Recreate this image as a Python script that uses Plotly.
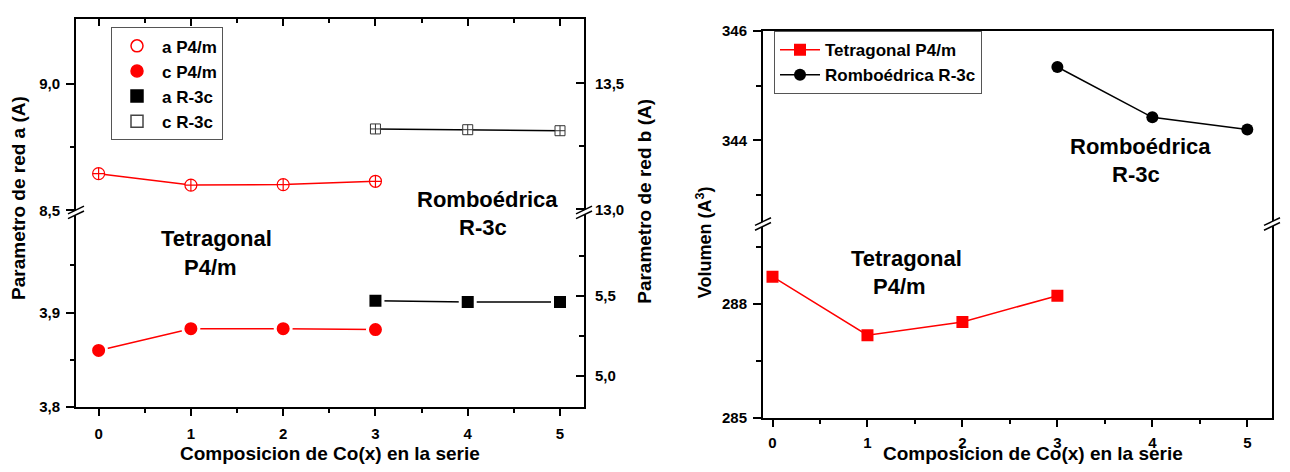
import plotly.graph_objects as go

W, H = 1290, 472
FONT = "Liberation Sans"

# ---- data -------------------------------------------------------------
composition = [0, 1, 2, 3, 4, 5]
x_tetragonal = [0, 1, 2, 3]
x_romboedrica = [3, 4, 5]

a_p4m = [8.645, 8.600, 8.602, 8.615]      # left axis, upper segment
c_p4m = [3.860, 3.883, 3.883, 3.882]      # left axis, lower segment
a_r3c = [5.472, 5.464, 5.464]             # right axis, lower segment
c_r3c = [13.319, 13.316, 13.312]          # right axis, upper segment

vol_tetragonal = [288.72, 287.18, 287.53, 288.22]
vol_romboedrica = [345.34, 344.42, 344.20]

# ---- tick labels (comma decimals) --------------------------------------
yl_low_vals, yl_low_text = [3.8, 3.9], ["3,8", "3,9"]
yl_up_vals, yl_up_text = [8.5, 9.0], ["8,5", "9,0"]
yr_low_vals, yr_low_text = [5.0, 5.5], ["5,0", "5,5"]
yr_up_vals, yr_up_text = [13.0, 13.5], ["13,0", "13,5"]
v_low_vals, v_low_text = [285, 288], ["285", "288"]
v_up_vals, v_up_text = [344, 346], ["344", "346"]


def fx(p):
    return p / W


def fy(p):
    return 1 - p / H


RED = "#ff0000"
BLACK = "#000000"
tickfont = dict(family=FONT, size=15, color="black", weight="bold")

fig = go.Figure()

# ---- left panel: lattice parameters ------------------------------------
fig.add_trace(go.Scatter(
    x=x_tetragonal, y=a_p4m, xaxis="x2", yaxis="y2", mode="lines+markers",
    line=dict(color=RED, width=1.5),
    marker=dict(symbol="circle-cross", size=12, color="white",
                line=dict(color=RED, width=1.2)),
    showlegend=False))
fig.add_trace(go.Scatter(
    x=x_tetragonal, y=c_p4m, xaxis="x", yaxis="y", mode="lines+markers",
    line=dict(color=RED, width=1.5),
    marker=dict(symbol="circle", size=16, color=RED,
                line=dict(color="white", width=3)),
    showlegend=False))
fig.add_trace(go.Scatter(
    x=x_romboedrica, y=a_r3c, xaxis="x", yaxis="y3", mode="lines+markers",
    line=dict(color=BLACK, width=1.5),
    marker=dict(symbol="square", size=15, color=BLACK,
                line=dict(color="white", width=3)),
    showlegend=False))
fig.add_trace(go.Scatter(
    x=x_romboedrica, y=c_r3c, xaxis="x2", yaxis="y4", mode="lines+markers",
    line=dict(color=BLACK, width=1.5),
    marker=dict(symbol="square-cross", size=10, color="white",
                line=dict(color="#333333", width=1)),
    showlegend=False))

# legend entries for the left panel (markers only)
for name, sym, col in [("a P4/m", "circle-open", RED),
                       ("c P4/m", "circle", RED),
                       ("a R-3c", "square", BLACK),
                       ("c R-3c", "square-open", "#444444")]:
    fig.add_trace(go.Scatter(
        x=[None], y=[None], xaxis="x", yaxis="y", mode="markers", name=name,
        marker=dict(symbol=sym, size=12, color=col, line=dict(color=col, width=1.5)),
        legend="legend"))

# ---- right panel: cell volume ------------------------------------------
fig.add_trace(go.Scatter(
    x=x_tetragonal, y=vol_tetragonal, xaxis="x3", yaxis="y5", mode="lines+markers",
    name="Tetragonal P4/m", line=dict(color=RED, width=1.5),
    marker=dict(symbol="square", size=12, color=RED), legend="legend2"))
fig.add_trace(go.Scatter(
    x=x_romboedrica, y=vol_romboedrica, xaxis="x4", yaxis="y6", mode="lines+markers",
    name="Romboédrica R-3c", line=dict(color=BLACK, width=1.5),
    marker=dict(symbol="circle", size=12, color=BLACK), legend="legend2"))

axis_common = dict(showline=True, linecolor="black", linewidth=2, showgrid=False,
                   zeroline=False, tickcolor="black", tickwidth=1.5, tickfont=tickfont)

left_dom = [fx(76), fx(584)]
right_dom = [fx(763), fx(1272)]
xr_left = [-0.245, 5.26]
xr_right = [-0.10, 5.26]
minor_x = dict(dtick=0.5, tick0=0, ticks="outside", ticklen=4,
               tickcolor="black", tickwidth=1.5)

fig.update_layout(
    width=W, height=H, margin=dict(l=0, r=0, t=0, b=0),
    paper_bgcolor="white", plot_bgcolor="white",
    font=dict(family=FONT, color="black", weight="bold"),
    xaxis=dict(**axis_common, domain=left_dom, range=xr_left, anchor="y",
               tickmode="array", tickvals=composition, ticks="outside", ticklen=7,
               minor=minor_x, ticklabelstandoff=5),
    xaxis2=dict(**axis_common, domain=left_dom, range=xr_left, anchor="y2",
                side="top", tickmode="array", tickvals=composition, ticks="inside",
                ticklen=7, showticklabels=False,
                minor=dict(dtick=0.5, tick0=0, ticks="inside", ticklen=4,
                           tickcolor="black", tickwidth=1.5)),
    yaxis=dict(**axis_common, domain=[fy(413), fy(209)], range=[3.8, 4.008],
               anchor="x", tickmode="array", tickvals=yl_low_vals, ticktext=yl_low_text,
               ticks="outside", ticklen=8, ticklabelstandoff=3,
               minor=dict(tickvals=[3.85, 3.95], ticks="outside", ticklen=4,
                          tickcolor="black", tickwidth=1.5)),
    yaxis2=dict(**axis_common, domain=[fy(209), fy(10)], range=[8.5, 9.256],
                anchor="x2", tickmode="array", tickvals=yl_up_vals, ticktext=yl_up_text,
                ticks="outside", ticklen=8, ticklabelstandoff=3,
                minor=dict(tickvals=[8.75], ticks="outside", ticklen=4,
                           tickcolor="black", tickwidth=1.5)),
    yaxis3=dict(**axis_common, overlaying="y", side="right", anchor="x",
                range=[4.807, 6.036], tickmode="array", tickvals=yr_low_vals,
                ticktext=yr_low_text, ticks="inside", ticklen=8, ticklabelstandoff=6,
                minor=dict(tickvals=[5.25, 5.75], ticks="inside", ticklen=5,
                           tickcolor="black", tickwidth=1.5)),
    yaxis4=dict(**axis_common, overlaying="y2", side="right", anchor="x2",
                range=[12.996, 13.756], tickmode="array", tickvals=yr_up_vals,
                ticktext=yr_up_text, ticks="inside", ticklen=8, ticklabelstandoff=6,
                minor=dict(tickvals=[13.25], ticks="inside", ticklen=5,
                           tickcolor="black", tickwidth=1.5)),
    xaxis3=dict(**axis_common, domain=right_dom, range=xr_right, anchor="y5",
                tickmode="array", tickvals=composition, ticks="outside", ticklen=7,
                minor=minor_x, ticklabelstandoff=3),
    xaxis4=dict(**axis_common, domain=right_dom, range=xr_right, anchor="y6",
                side="top", ticks="", showticklabels=False),
    yaxis5=dict(**axis_common, domain=[fy(424.5), fy(222)], range=[285, 290.13],
                anchor="x3", mirror=True, tickmode="array", tickvals=v_low_vals,
                ticktext=v_low_text, ticks="outside", ticklen=8, ticklabelstandoff=3,
                minor=dict(tickvals=[286.5, 289.5], ticks="outside", ticklen=5,
                           tickcolor="black", tickwidth=1.5)),
    yaxis6=dict(**axis_common, domain=[fy(222), fy(22.7)], range=[342.49, 346.0],
                anchor="x4", mirror=True, tickmode="array", tickvals=v_up_vals,
                ticktext=v_up_text, ticks="outside", ticklen=8, ticklabelstandoff=3,
                minor=dict(tickvals=[343, 345], ticks="outside", ticklen=5,
                           tickcolor="black", tickwidth=1.5)),
    legend=dict(x=fx(111), y=fy(19), xanchor="left", yanchor="top", itemwidth=40,
                bgcolor="white", bordercolor="#555555", borderwidth=1,
                font=dict(family=FONT, size=17, color="black", weight="bold")),
    legend2=dict(x=fx(774), y=fy(23), xanchor="left", yanchor="top", itemwidth=40,
                 bgcolor="white", bordercolor="#555555", borderwidth=1,
                 font=dict(family=FONT, size=17, color="black", weight="bold")),
)

# ---- text labels -------------------------------------------------------
def label(text, x, y, size, angle=0):
    fig.add_annotation(text=text, x=fx(x), y=fy(y), xref="paper", yref="paper",
                       showarrow=False, textangle=angle, xanchor="center",
                       yanchor="middle",
                       font=dict(family=FONT, size=size, color="black", weight="bold"))


label("Tetragonal", 216, 238, 22)
label("P4/m", 210, 268, 22)
label("Romboédrica", 487, 198, 22)
label("R-3c", 483, 227, 22)
label("Tetragonal", 906, 259, 22)
label("P4/m", 899, 288, 22)
label("Romboédrica", 1140, 143, 22)
label("R-3c", 1136, 172, 22)

label("Composicion de Co(x) en la serie", 330, 461, 19)
label("Composicion de Co(x) en la serie", 1033, 461, 19)
label("Parametro de red a (A)", 19, 196, 19, -90)
label("Parametro de red b (A)", 645, 200, 19, -90)
label("Volumen (A<sup>3</sup>)", 704, 242, 18, -90)


# ---- axis break marks ----------------------------------------------------
def axis_break(cx, cy):
    half_w, half_h, gap = 8, 4, 5
    top = cy - gap / 2
    bot = cy + gap / 2
    path = (f"M {fx(cx - half_w)},{fy(top + half_h)} L {fx(cx + half_w)},{fy(top - half_h)} "
            f"L {fx(cx + half_w)},{fy(bot - half_h)} L {fx(cx - half_w)},{fy(bot + half_h)} Z")
    fig.add_shape(type="path", path=path, xref="paper", yref="paper",
                  fillcolor="white", line=dict(width=0), layer="above")
    for off in (top, bot):
        fig.add_shape(type="line", xref="paper", yref="paper",
                      x0=fx(cx - half_w), y0=fy(off + half_h),
                      x1=fx(cx + half_w), y1=fy(off - half_h),
                      line=dict(color="black", width=1.5), layer="above")


axis_break(76, 211)
axis_break(584, 211)
axis_break(763, 223)
axis_break(1272, 223)

fig.write_html("out.html")
